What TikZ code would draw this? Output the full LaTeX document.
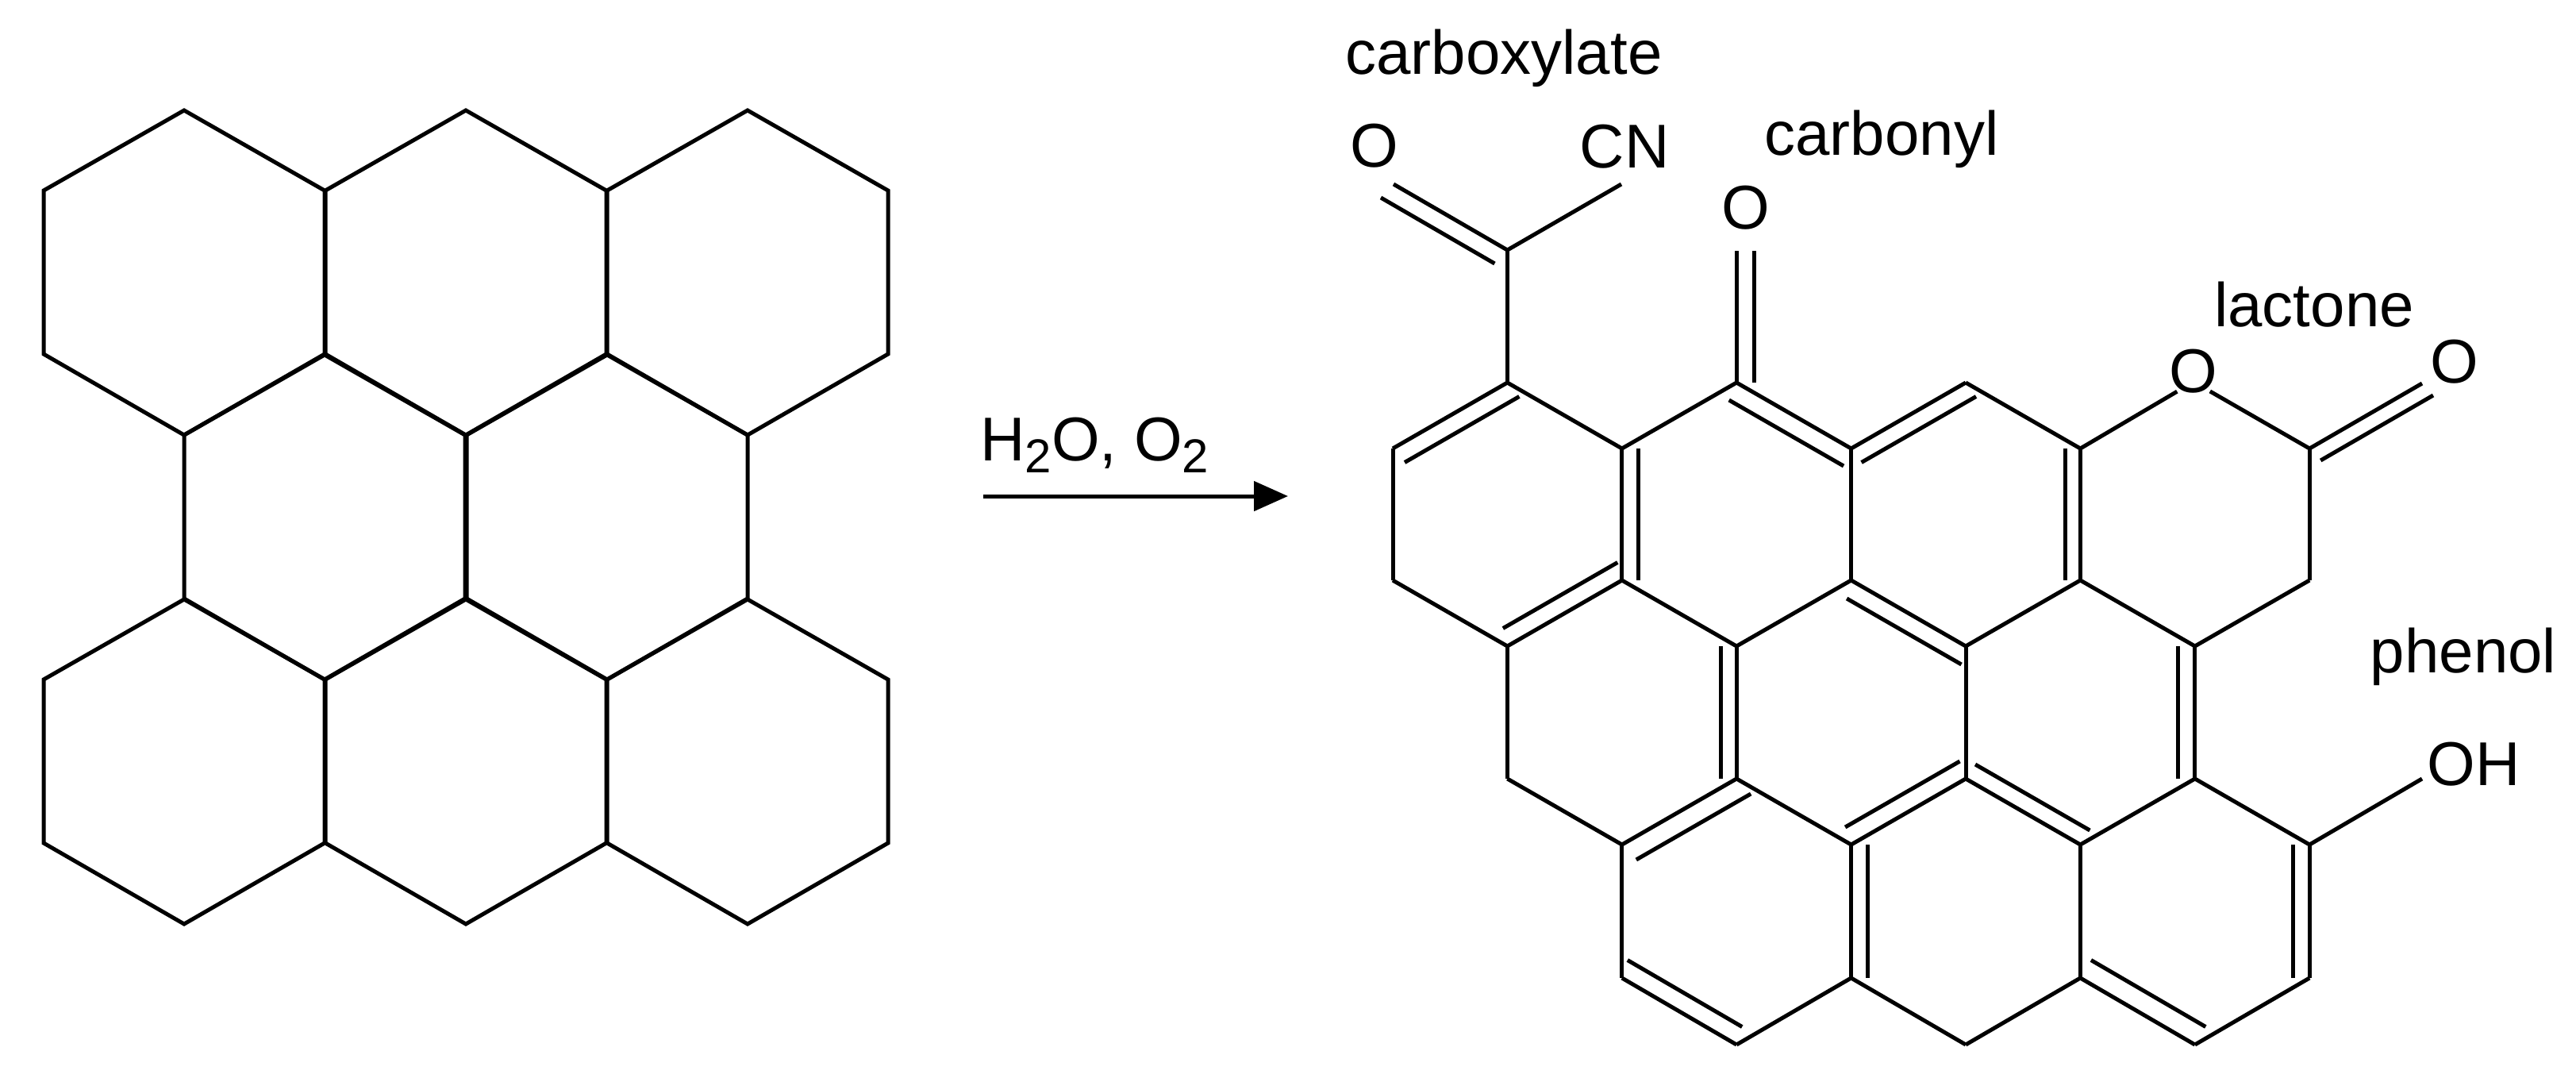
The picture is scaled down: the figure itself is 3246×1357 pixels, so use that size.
\documentclass[tikz,border=0pt]{standalone}
\usepackage{fontspec}
\setmainfont{Liberation Sans}
\usetikzlibrary{arrows.meta,calc}

\tikzset{
  bond/.style={line width=2.5pt, line cap=butt},
  atom/.style={anchor=base, inner sep=0pt, font=\fontsize{39}{46}\selectfont},
}

% inner line of a double bond, shifted from the bond itself
\newcommand{\dbond}[4]{
  \draw [bond] (#1) -- (#2);
  \draw [bond] ([shift={(#3,#4)}]#1) -- ([shift={(#3,#4)}]#2);
}
\newcommand{\subtwo}{\raisebox{-7.5pt}{\fontsize{30}{36}\selectfont 2}}

\begin{document}
\begin{tikzpicture}[x=0.5pt, y=-0.5pt]
\useasboundingbox (0,0) rectangle (3246,1357);

% plain sheet
\foreach \cx/\cy in {232/343, 587/343, 942/343, 409/651, 765/651, 232/959, 587/959, 942/959}
  \draw [bond] (\cx,\cy-204) -- (\cx+177,\cy-103) -- (\cx+177,\cy+103) -- (\cx,\cy+205) -- (\cx-177,\cy+103) -- (\cx-177,\cy-103) -- cycle;

% reaction arrow
\node [atom, anchor=base west] (reagent) at (1235,580) {H\subtwo O, O\subtwo};
\coordinate (arrowstart) at (1239,625);
\coordinate (arrowend) at (1623,625);
\draw [bond, -{Triangle[length=21.5pt, width=18.5pt]}] (arrowstart) -- (arrowend);

% atoms of the oxidised sheet, rows a to h
\foreach \r/\y/\cols in {a/482/{1,3,5}, b/565/{0,2,4,6,8}, c/731/{0,2,4,6,8}, d/814/{1,3,5,7},
    e/981/{1,3,5,7}, f/1064/{2,4,6,8}, g/1232/{2,4,6,8}, h/1316/{3,5,7}}
  \foreach \c in \cols
    \coordinate (\r\c) at (1755+\c*144.4,\y);

\coordinate (acid) at (a1 |- 0,315);
\coordinate (acidO) at (1756,232);
\coordinate (acidCN) at (2043,232);
\coordinate (ketoO) at (a3 |- 0,316);
\coordinate (ringO) at (2764,481);
\coordinate (lactoneO) at (3052,483);
\coordinate (phenolO) at (3052,981);

% single bonds
\foreach \p/\q in {acid/a1, acid/acidCN, a1/b2, b2/a3, b0/c0, c0/d1, d1/e1, e1/f2, f2/g2,
    b4/c4, c4/d3, d3/c2, a5/b6, c6/d5, b8/c8, c8/d7, d7/c6, d5/e5, e3/f4, f6/e7, e7/f8,
    f6/g6, h3/g4, g4/h5, h5/g6, h7/g8, f8/phenolO}
  \draw [bond] (\p) -- (\q);
\draw [bond, shorten >=12pt] (b6) -- (ringO);
\draw [bond, shorten <=12pt] (ringO) -- (b8);

% double bonds
\dbond{a1}{b0}{15}{17.5}
\dbond{b2}{c2}{21}{0}
\dbond{d1}{c2}{-5.5}{-22.5}
\dbond{a3}{b4}{-9.5}{22}
\dbond{b4}{a5}{13}{17.5}
\dbond{b6}{c6}{-19}{0}
\dbond{c4}{d5}{-5.5}{23}
\dbond{d3}{e3}{-20}{0}
\dbond{d7}{e7}{-21}{0}
\dbond{f2}{e3}{18}{19}
\dbond{f4}{e5}{-7.5}{-22}
\dbond{e5}{f6}{12}{-18}
\dbond{f4}{g4}{21}{0}
\dbond{f8}{g8}{-21}{0}
\dbond{g2}{h3}{7}{-22.5}
\dbond{g6}{h7}{13.5}{-22.5}
\dbond{acid}{acidO}{-16}{17}
\dbond{a3}{ketoO}{22}{0}
\dbond{b8}{lactoneO}{14}{15}

% labels
\node [atom] (carboxylate) at (1895,93) {carboxylate};
\node [atom] (carbonyl) at (2371,195) {carbonyl};
\node [atom] (lactone) at (2916,411) {lactone};
\node [atom] (phenol) at (3104,847) {phenol};
\node [atom] (labelO1) at (1732,210) {O};
\node [atom] (labelCN) at (2047,211) {CN};
\node [atom] (labelO2) at (2200,288) {O};
\node [atom] (labelO3) at (2764,494) {O};
\node [atom] (labelO4) at (3093,482) {O};
\node [atom] (labelOH) at (3117,989) {OH};

\end{tikzpicture}
\end{document}
